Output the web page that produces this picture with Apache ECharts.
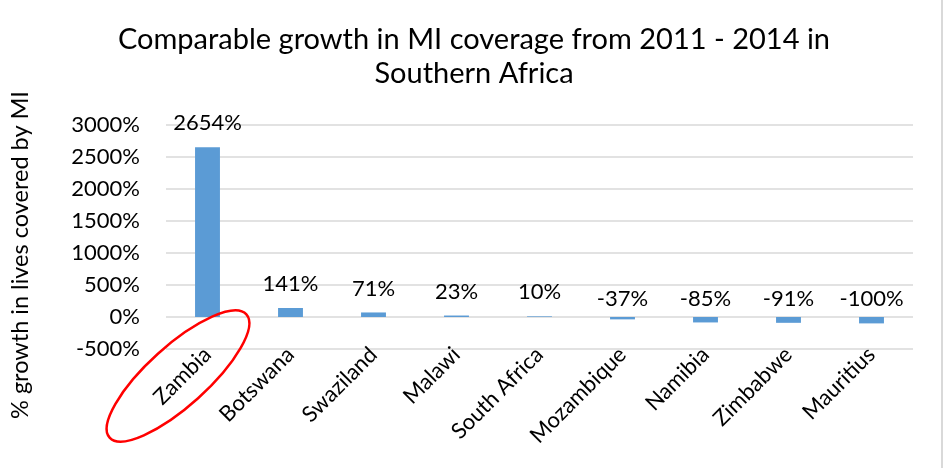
<!DOCTYPE html>
<html><head><meta charset="utf-8">
<script src="https://cdn.jsdelivr.net/npm/echarts@6/dist/echarts.min.js"></script>
<style>html,body{margin:0;padding:0;background:#fff}#c{width:948px;height:468px}</style>
</head><body><div id="c"></div>
<script>
const categories = ['Zambia','Botswana','Swaziland','Malawi','South Africa','Mozambique','Namibia','Zimbabwe','Mauritius'];
const growth = [2654, 141, 71, 23, 10, -37, -85, -91, -100];
const yTicks = {min: -500, max: 3000, interval: 500};
const titleText = 'Comparable growth in MI coverage from 2011 - 2014 in\nSouthern Africa';
const yName = '% growth in lives covered by MI';

const FONT = 'Lato';
const chart = echarts.init(document.getElementById('c'), null, {renderer: 'canvas'});
chart.setOption({
  animation: false,
  backgroundColor: '#fff',
  textStyle: {fontFamily: FONT},
  title: {
    text: titleText, left: 'center', top: 18,
    textStyle: {fontFamily: FONT, fontSize: 29, fontWeight: 'normal', color: '#000', lineHeight: 34}
  },
  grid: {left: 166, right: 35, top: 125, bottom: 119, containLabel: false},
  xAxis: {
    type: 'category', data: categories,
    axisLine: {show: false}, axisTick: {show: false},
    axisLabel: {rotate: 45, margin: 2, fontSize: 22, color: '#000', fontFamily: FONT, interval: 0}
  },
  yAxis: {
    type: 'value', min: yTicks.min, max: yTicks.max, interval: yTicks.interval,
    name: yName, nameLocation: 'middle', nameGap: 134,
    nameTextStyle: {fontSize: 23.5, color: '#000', fontFamily: FONT, padding: [0, 0, 0, -36]},
    axisLine: {show: false}, axisTick: {show: false},
    axisLabel: {formatter: v => v + '%', fontSize: 22, color: '#000', fontFamily: FONT, margin: 26},
    splitLine: {lineStyle: {color: '#D9D9D9', width: 1.5}}
  },
  series: [{
    type: 'bar',
    data: growth.map(v => ({value: v, label: {distance: v < 0 ? 7 : 13}})),
    barWidth: '30%',
    itemStyle: {color: '#5B9BD5'},
    label: {show: true, position: 'top', formatter: p => p.value + '%',
      fontSize: 22, color: '#000', fontFamily: FONT}
  }],
  graphic: [
    {type: 'ellipse', shape: {cx: 0, cy: 0, rx: 92, ry: 30}, x: 178, y: 376,
     rotation: 42 * Math.PI / 180, style: {fill: 'none', stroke: '#FF0000', lineWidth: 2.5}, z: 100},
    {type: 'line', shape: {x1: 942, y1: 0, x2: 942, y2: 468}, style: {stroke: '#D9D9D9', lineWidth: 2}}
  ]
});
</script></body></html>
